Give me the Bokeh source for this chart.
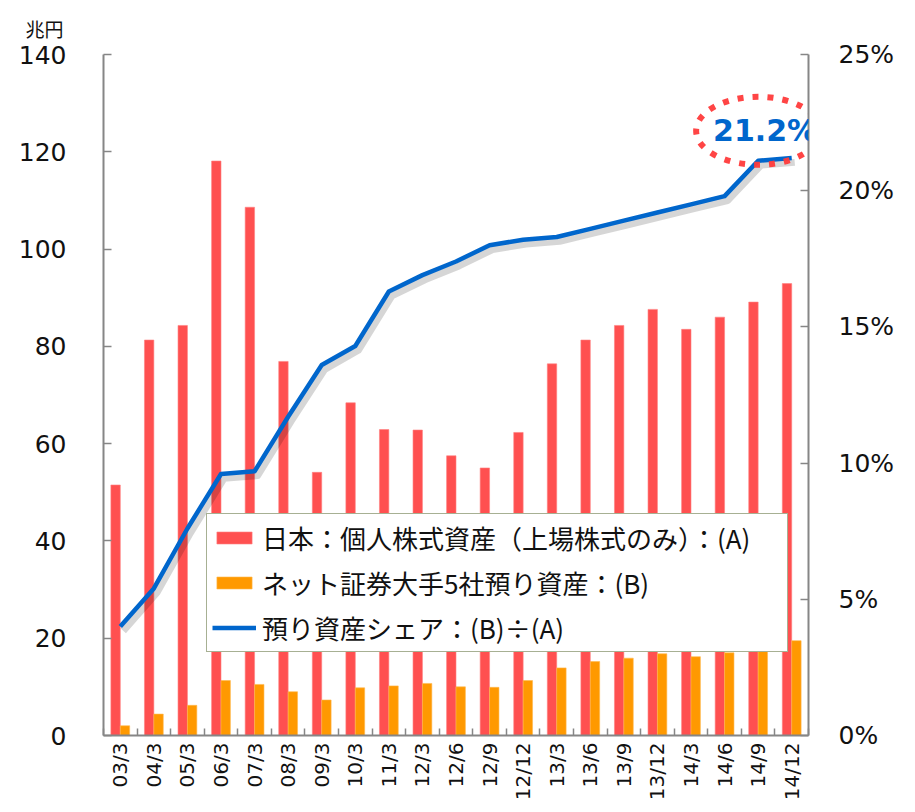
import numpy as np
from bokeh.plotting import figure
from bokeh.models import (Range1d, LinearAxis, FixedTicker, CustomJSTickFormatter,
                          PrintfTickFormatter, ColumnDataSource, Legend, LegendItem,
                          Label, Title)
from bokeh.transform import dodge
from bokeh.embed import file_html
from bokeh.resources import INLINE

# ---------------- data ----------------
periods = ["03/3", "04/3", "05/3", "06/3", "07/3", "08/3", "09/3", "10/3", "11/3",
           "12/3", "12/6", "12/9", "12/12", "13/3", "13/6", "13/9", "13/12",
           "14/3", "14/6", "14/9", "14/12"]
# (A) 日本：個人株式資産（上場株式のみ） 兆円
individual_stock_assets = [51.5, 81.3, 84.3, 118.1, 108.6, 76.9, 54.1, 68.4, 62.9,
                           62.8, 57.5, 55.0, 62.3, 76.4, 81.3, 84.3, 87.6,
                           83.5, 86.0, 89.1, 92.9]
# (B) ネット証券大手5社預り資産 兆円
net_broker_assets = [2.0, 4.4, 6.2, 11.3, 10.5, 9.0, 7.3, 9.8, 10.2,
                     10.7, 10.0, 9.9, 11.3, 13.9, 15.2, 15.9, 16.8,
                     16.2, 17.0, 18.8, 19.5]
# (B)/(A) %
share_pct = [4.0, 5.4, 7.6, 9.6, 9.7, 11.7, 13.6, 14.3, 16.3,
             16.9, 17.4, 18.0, 18.2, 18.3, 18.6, 18.9, 19.2,
             19.5, 19.8, 21.1, 21.2]
yen_ticks = [0, 20, 40, 60, 80, 100, 120, 140]
pct_ticks = [0, 5, 10, 15, 20, 25]
unit_label = "兆円"
legend_labels = ["日本：個人株式資産（上場株式のみ）：(A)",
                 "ネット証券大手5社預り資産：(B)",
                 "預り資産シェア：(B)÷(A)"]

# ---------------- styles ----------------
RED = "#ff5050"
ORANGE = "#ff9900"
BLUE = "#0066cc"
AXIS = "#868686"
TXT = "#111111"
NUM_FONT = "DejaVu Sans"
JP_FONT = "Noto Sans CJK JP"

n = len(periods)
src = ColumnDataSource(dict(x=list(range(n)), a=individual_stock_assets,
                            b=net_broker_assets, share=share_pct))

p = figure(width=905, height=810, output_backend="svg", toolbar_location=None,
           x_range=Range1d(-0.5, n - 0.5), y_range=Range1d(yen_ticks[0], yen_ticks[-1]),
           x_axis_type=None, y_axis_type=None,
           min_border_left=103, min_border_right=97, min_border_top=53,
           min_border_bottom=75)
p.outline_line_color = None
p.background_fill_color = "white"
p.extra_y_ranges = {"pct": Range1d(pct_ticks[0], pct_ticks[-1])}

# unit label above the left axis
t = Title(text=unit_label, text_font=JP_FONT, text_font_size="19px",
          text_font_style="normal", text_color=TXT, align="left", offset=-78,
          standoff=25)
p.add_layout(t, "above")

# axes
xaxis = LinearAxis(ticker=FixedTicker(ticks=list(range(n)),
                                      minor_ticks=[i - 0.5 for i in range(n + 1)]),
                   formatter=CustomJSTickFormatter(args=dict(labels=periods),
                                                   code="return labels[Math.round(tick)];"))
xaxis.major_label_orientation = np.pi / 2
xaxis.major_tick_in = 0
xaxis.major_tick_out = 0
xaxis.minor_tick_in = 7
xaxis.minor_tick_out = 0
xaxis.minor_tick_line_color = AXIS
xaxis.minor_tick_line_width = 1.5
xaxis.axis_line_color = AXIS
xaxis.axis_line_width = 2
xaxis.major_label_text_font = NUM_FONT
xaxis.major_label_text_font_size = "20px"
xaxis.major_label_text_color = TXT
xaxis.major_label_standoff = 7
p.add_layout(xaxis, "below")

laxis = LinearAxis(ticker=FixedTicker(ticks=yen_ticks, minor_ticks=[]))
laxis.major_tick_in = 8
laxis.major_tick_out = 0
laxis.minor_tick_line_color = None
laxis.major_tick_line_color = AXIS
laxis.major_tick_line_width = 1.5
laxis.axis_line_color = AXIS
laxis.axis_line_width = 2
laxis.major_label_text_font = NUM_FONT
laxis.major_label_text_font_size = "25px"
laxis.major_label_text_color = TXT
laxis.major_label_standoff = 37
p.add_layout(laxis, "left")

raxis = LinearAxis(y_range_name="pct", ticker=FixedTicker(ticks=pct_ticks, minor_ticks=[]),
                   formatter=PrintfTickFormatter(format="%d%%"))
raxis.major_tick_in = 8
raxis.major_tick_out = 0
raxis.minor_tick_line_color = None
raxis.major_tick_line_color = AXIS
raxis.major_tick_line_width = 1.5
raxis.axis_line_color = AXIS
raxis.axis_line_width = 2
raxis.major_label_text_font = NUM_FONT
raxis.major_label_text_font_size = "25px"
raxis.major_label_text_color = TXT
raxis.major_label_standoff = 30
p.add_layout(raxis, "right")

# bars
bw = 0.28
r_a = p.vbar(x=dodge("x", -bw / 2), top="a", width=bw, source=src,
             fill_color=RED, line_color="#ff8080", line_width=0.6)
r_b = p.vbar(x=dodge("x", bw / 2), top="b", width=bw, source=src,
             fill_color=ORANGE, line_color="#ffb84d", line_width=0.6)

# share line with soft shadow
p.line(x=dodge("x", 0.09), y=dodge("share", -0.16), source=src, y_range_name="pct",
       line_color="black", line_alpha=0.16, line_width=7, line_join="round")
r_s = p.line(x="x", y="share", source=src, y_range_name="pct",
             line_color=BLUE, line_width=4.5, line_join="round")

# callout on the latest share
cx = n - 2
cy = share_pct[-1] + 1.0
p.ellipse(x=[cx], y=[cy], width=124, height=68, width_units="screen",
          height_units="screen", y_range_name="pct", fill_alpha=0,
          line_color="#ff3b3b", line_width=6, line_dash="6 9", line_alpha=0.95)
lab = Label(x=cx, y=cy, y_range_name="pct", text=f"{share_pct[-1]:.1f}%",
            x_offset=7, text_align="center", text_baseline="middle",
            text_font=NUM_FONT, text_font_style="bold",
            text_font_size="30px", text_color=BLUE)
p.add_layout(lab)

legend = Legend(items=[LegendItem(label=legend_labels[0], renderers=[r_a]),
                       LegendItem(label=legend_labels[1], renderers=[r_b]),
                       LegendItem(label=legend_labels[2], renderers=[r_s])],
                location=(103, 83), orientation="vertical")
legend.padding = 5
legend.margin = 0
legend.spacing = 8
legend.glyph_width = 44
legend.glyph_height = 15
legend.label_height = 30
legend.label_width = 520
legend.label_standoff = 6
legend.label_text_font = JP_FONT
legend.label_text_font_size = "26px"
legend.label_text_color = TXT
legend.border_line_color = "#4f6228"
legend.border_line_width = 1.5
legend.background_fill_color = "white"
legend.background_fill_alpha = 1
p.add_layout(legend, "center")

open("out.html", "w").write(file_html(p, INLINE))
